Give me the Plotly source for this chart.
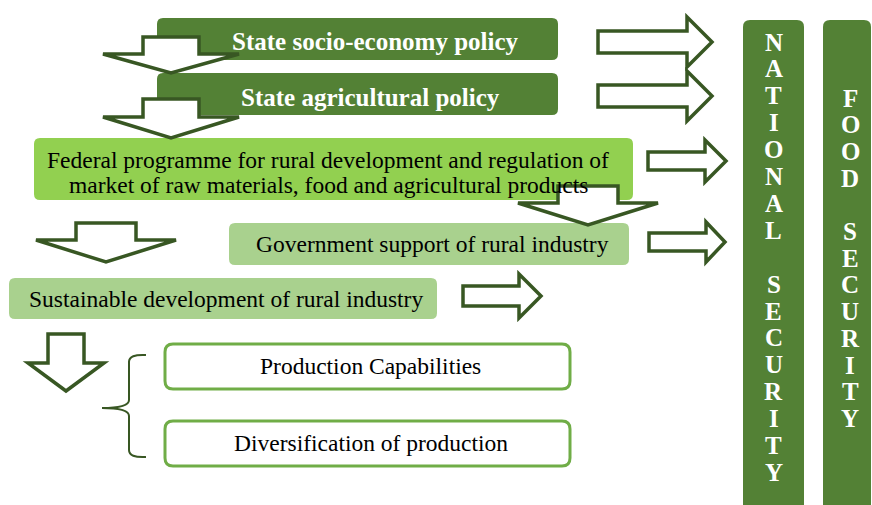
import plotly.graph_objects as go

W, H = 872, 505

# ---- text content ----
top_labels = ["State socio-economy policy", "State agricultural policy"]
federal_lines = ["Federal programme for rural development and regulation of",
                 "market of raw materials, food and agricultural products"]
support_label = "Government support of rural industry"
sustain_label = "Sustainable development of rural industry"
outcome_labels = ["Production Capabilities", "Diversification of production"]
national_letters = list("NATIONAL SECURITY")
food_letters = list("FOOD SECURITY")

# ---- styles ----
DARK = "#538135"
LIGHT = "#92D050"
PALE = "#A9D18E"
BORDER = "#70AD47"
ARROW = "#385723"
SERIF = "Liberation Serif"
REG = 23.5
BOLD = 25
AW = 3.5


def rrect(x0, y0, x1, y1, r=6, bottom_round=True):
    if bottom_round:
        return (f"M{x0+r},{y0} L{x1-r},{y0} Q{x1},{y0} {x1},{y0+r} L{x1},{y1-r} "
                f"Q{x1},{y1} {x1-r},{y1} L{x0+r},{y1} Q{x0},{y1} {x0},{y1-r} "
                f"L{x0},{y0+r} Q{x0},{y0} {x0+r},{y0} Z")
    return (f"M{x0+r},{y0} L{x1-r},{y0} Q{x1},{y0} {x1},{y0+r} L{x1},{y1} "
            f"L{x0},{y1} L{x0},{y0+r} Q{x0},{y0} {x0+r},{y0} Z")


def down_arrow(cx, sw, top, hb, hw, tip):
    return (f"M{cx-sw},{top} L{cx+sw},{top} L{cx+sw},{hb} L{cx+hw},{hb} "
            f"L{cx},{tip} L{cx-hw},{hb} L{cx-sw},{hb} Z")


def right_arrow(x0, cy, sh, hbx, hh, tipx):
    return (f"M{x0},{cy-sh} L{hbx},{cy-sh} L{hbx},{cy-hh} L{tipx},{cy} "
            f"L{hbx},{cy+hh} L{hbx},{cy+sh} L{x0},{cy+sh} Z")


shapes = []


def add_path(path, fill, line_color=None, width=0):
    shapes.append(dict(type="path", path=path, xref="x", yref="y",
                       fillcolor=fill,
                       line=dict(color=line_color or fill, width=width),
                       layer="above"))


# filled boxes
add_path(rrect(157, 18, 558, 60), DARK)
add_path(rrect(157, 73, 558, 115), DARK)
add_path(rrect(34, 138, 633, 200), LIGHT)
add_path(rrect(229, 223, 629, 265), PALE)
add_path(rrect(9, 278, 437, 319), PALE)
# outlined boxes
add_path(rrect(165, 344, 570, 389, 8), "white", BORDER, 3)
add_path(rrect(165, 421, 570, 466, 8), "white", BORDER, 3)
# vertical bars
add_path(rrect(743, 20, 804, 510, 7, bottom_round=False), DARK)
add_path(rrect(823, 20, 871, 510, 7, bottom_round=False), DARK)

# down arrows
add_path(down_arrow(171, 28, 37, 54, 68, 73), "white", ARROW, AW)
add_path(down_arrow(171, 28, 99, 117, 68, 138), "white", ARROW, AW)
add_path(down_arrow(588, 30, 186, 203, 70, 225), "white", ARROW, AW)
add_path(down_arrow(106, 30, 223, 240, 70, 262), "white", ARROW, AW)
add_path(down_arrow(66, 18, 334, 363, 38, 391), "white", ARROW, AW)

# right arrows
add_path(right_arrow(598, 42, 11, 687, 25, 712), "white", ARROW, AW)
add_path(right_arrow(598, 96, 11, 687, 25, 712), "white", ARROW, AW)
add_path(right_arrow(648, 161, 9, 705, 21, 726), "white", ARROW, AW)
add_path(right_arrow(649, 242, 9, 706, 20, 725), "white", ARROW, AW)
add_path(right_arrow(463, 296, 10, 519, 22, 541), "white", ARROW, AW)

# brace
shapes.append(dict(type="path", xref="x", yref="y",
                   path=("M146,355 Q129,354 129,362 L129,400 Q129,408 102,408 "
                         "M102,408 Q129,408 129,416 L129,450 Q129,458 146,457"),
                   line=dict(color=ARROW, width=2), layer="above"))

annotations = []


def add_text(x, y, text, size, color="black", bold=False):
    if bold:
        text = f"<b>{text}</b>"
    annotations.append(dict(x=x, y=y, xref="x", yref="y", text=text,
                            showarrow=False, xanchor="center", yanchor="middle",
                            font=dict(family=SERIF, size=size, color=color)))


add_text(375, 41, top_labels[0], BOLD, "white", True)
add_text(370.5, 97, top_labels[1], BOLD, "white", True)
add_text(328, 160, federal_lines[0], REG)
add_text(328, 185, federal_lines[1], REG)
add_text(432, 244, support_label, REG)
add_text(225.5, 299, sustain_label, REG)
add_text(370, 366, outcome_labels[0], REG)
add_text(370.5, 443, outcome_labels[1], REG)

for i, ch in enumerate(national_letters):
    if ch != " ":
        add_text(773.5, 42 + i * 26.9, ch, BOLD, "white", True)
for i, ch in enumerate(food_letters):
    if ch != " ":
        add_text(850, 98 + i * 26.7, ch, BOLD, "white", True)

fig = go.Figure()
fig.update_layout(
    width=W, height=H,
    margin=dict(l=0, r=0, t=0, b=0),
    paper_bgcolor="white", plot_bgcolor="white",
    font=dict(family=SERIF),
    xaxis=dict(range=[0, W], visible=False, fixedrange=True),
    yaxis=dict(range=[H, 0], visible=False, fixedrange=True),
    shapes=shapes, annotations=annotations, showlegend=False,
)
fig.write_html("out.html", config={"displayModeBar": False},
               post_script="document.body.style.margin='0';document.body.style.overflow='hidden';")
